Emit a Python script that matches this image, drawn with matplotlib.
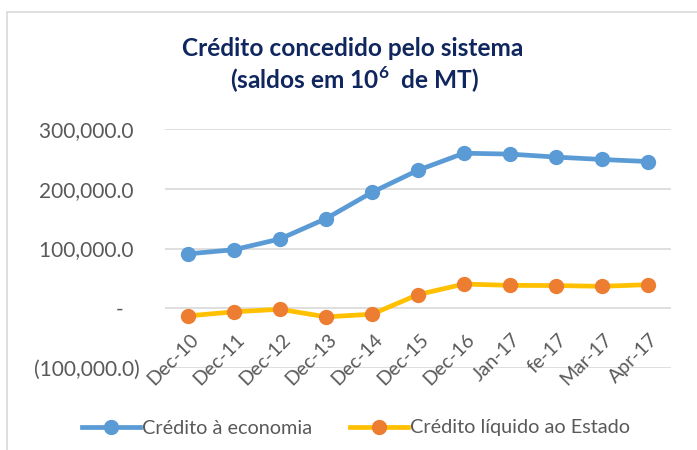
import matplotlib
matplotlib.use("Agg")
import matplotlib.pyplot as plt
from matplotlib.patches import Rectangle
from matplotlib.lines import Line2D

categories = ["Dec-10", "Dec-11", "Dec-12", "Dec-13", "Dec-14", "Dec-15",
              "Dec-16", "Jan-17", "fe-17", "Mar-17", "Apr-17"]
credito_economia = [91000, 98000, 116000, 150000, 194000, 231000,
                    259500, 258000, 253000, 249000, 245500]
credito_estado = [-12800, -6000, -1700, -14400, -10000, 22800,
                  40500, 38300, 38000, 36700, 39500]
y_ticks = [-100000, 0, 100000, 200000, 300000]
y_tick_labels = ["(100,000.0)", "-   ", "100,000.0 ", "200,000.0 ", "300,000.0 "]

plt.rcParams['font.family'] = ['Lato', 'DejaVu Sans']

W, H = 697, 450
fig = plt.figure(figsize=(W / 100, H / 100), dpi=100)

# outer chart frame (only top and left edges visible)
fig.patches.append(Rectangle((7 / W, -0.1), 1.2, (H - 12) / H + 0.1,
                             transform=fig.transFigure, fill=False,
                             edgecolor="#D9D9D9", linewidth=1.2))

left, right = 165 / W, 671 / W
top, bottom = 1 - 129 / H, 1 - 368 / H
ax = fig.add_axes([left, bottom, right - left, top - bottom])

x = list(range(len(categories)))
blue, yellow, orange = "#5B9BD5", "#FFC000", "#ED7D31"
ax.plot(x, credito_economia, color=blue, lw=3.4, marker="o", ms=10,
        mfc=blue, mec=blue, zorder=3, solid_capstyle="round")
ax.plot(x, credito_estado, color=yellow, lw=3.4, marker="o", ms=10,
        mfc=orange, mec=orange, zorder=3, solid_capstyle="round")

ax.set_xlim(-0.5, len(categories) - 0.5)
ax.set_ylim(-100000, 300000)
ax.set_yticks(y_ticks)
ax.set_yticklabels(y_tick_labels)
ax.grid(axis="y", color="#D9D9D9", lw=1.2)
ax.set_axisbelow(True)
for s in ax.spines.values():
    s.set_visible(False)
ax.tick_params(axis="y", length=0, pad=18.5, labelsize=15, labelcolor="#595959")
ax.set_xticks([])

for xi, lab in zip(x, categories):
    ax.annotate(lab, xy=(xi, 0), xytext=(1, -16), textcoords="offset points",
                ha="right", va="top", rotation=45, rotation_mode="anchor",
                fontsize=14, color="#595959")

title_color = "#10265E"
fig.text(353 / W, 1 - 48 / H, "Crédito concedido pelo sistema",
         ha="center", va="center", fontsize=17.6, fontweight="bold",
         color=title_color)
fig.text(354 / W, 1 - 80 / H, r"(saldos em 10$^{\mathregular{6}}$  de MT)",
         ha="center", va="center", fontsize=17.6, fontweight="bold",
         color=title_color)

h1 = Line2D([], [], color=blue, lw=3.4, marker="o", ms=10, mfc=blue, mec=blue)
h2 = Line2D([], [], color=yellow, lw=3.4, marker="o", ms=10, mfc=orange, mec=orange)
fig.legend([h1, h2], ["Crédito à economia", "Crédito líquido ao Estado"],
           loc="center", bbox_to_anchor=(356 / W, 1 - 428 / H), ncol=2,
           frameon=False, fontsize=14.3, labelcolor="#595959",
           handlelength=2.9, handletextpad=0.1, columnspacing=1.9)

fig.savefig("out.png", dpi=100)
